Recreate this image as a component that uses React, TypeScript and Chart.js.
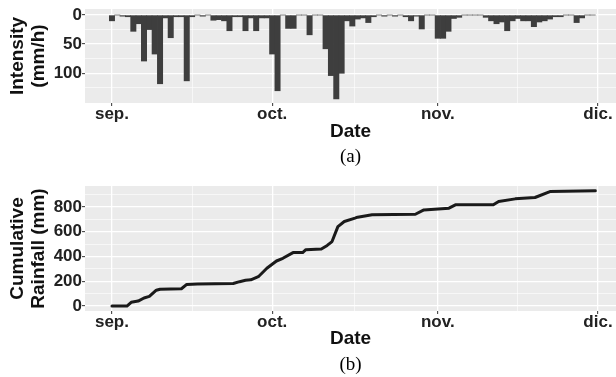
import React, { useEffect, useRef } from 'react';
import { Chart, registerables } from 'chart.js';
Chart.register(...registerables);

// ---- data ----
// Daily rainfall intensity (mm/h), one value per day starting 1 Sep
const intensity = [
  10, 0, 2, 3, 28, 15, 79, 25, 67, 118,
  5, 39, 3, 3, 113, 3, 0, 2, 0, 9,
  8, 10, 27, 3, 3, 27, 5, 27, 5, 5,
  67, 130, 0, 23, 23, 0, 0, 34, 0, 0,
  58, 104, 144, 100, 10, 19, 7, 5, 13, 3,
  0, 2, 0, 2, 0, 3, 10, 2, 24, 0,
  0, 40, 40, 28, 6, 4, 0, 0, 0, 0,
  4, 10, 15, 12, 27, 10, 6, 10, 10, 20,
  12, 10, 7, 3, 3, 0, 0, 13, 5, 0,
  0,
];
// Cumulative rainfall (mm): day offset from 1 Sep, value
const cumDays = [0, 2.8, 3.6, 4.9, 6, 7, 8.3, 9, 13, 14, 16, 22.7, 23.9, 25, 26, 27.4, 29, 30.8, 32, 33.9, 35.7, 36.3, 39.2, 40.3, 41.2, 42.3, 43.5, 45.5, 46, 48.7, 56.8, 58.4, 63.1, 64.3, 71.4, 72.4, 75.5, 79.2, 82, 90.5];
const cumRain = [0, 0, 30, 40, 65, 78, 128, 136, 140, 175, 178, 182, 197, 208, 212, 237, 305, 364, 386, 432, 432, 455, 461, 490, 521, 642, 683, 710, 718, 737, 742, 777, 791, 818, 818, 845, 866, 877, 925, 931];
// Axis ticks
const monthTickDays = [0, 30, 61, 91];
const monthLabels = ['sep.', 'oct.', 'nov.', 'dic.'];
const xGridDays = [0, 15, 30, 45.5, 61, 76, 91];
const intensityGrid = [0, 25, 50, 75, 100, 125];
const intensityLabels = [0, 50, 100];
const cumGrid = [0, 100, 200, 300, 400, 500, 600, 700, 800, 900];
const cumLabels = [0, 200, 400, 600, 800];

const SANS = "'Liberation Sans', Arial, sans-serif";
const X_MIN = -5.05;
const X_MAX = 94.37;

const bgPlugin = {
  id: 'panelBg',
  beforeDraw(chart: any) {
    const { ctx, chartArea } = chart;
    ctx.save();
    ctx.fillStyle = '#EBEBEB';
    ctx.fillRect(chartArea.left, chartArea.top, chartArea.right - chartArea.left, chartArea.bottom - chartArea.top);
    ctx.restore();
  },
};

const captionPlugin = (text: string, dy: number) => ({
  id: 'caption',
  afterDraw(chart: any) {
    const { ctx, chartArea } = chart;
    ctx.save();
    ctx.font = "19px 'Liberation Serif', 'Times New Roman', serif";
    ctx.fillStyle = '#000';
    ctx.textAlign = 'center';
    ctx.textBaseline = 'middle';
    ctx.fillText(text, (chartArea.left + chartArea.right) / 2, chartArea.bottom + dy);
    ctx.restore();
  },
});

const tickFont = { family: SANS, size: 17, weight: 'bold' as const, lineHeight: 1 };
const titleFont = { family: SANS, size: 19, weight: 'bold' as const, lineHeight: 1.2 };

function xScale(axisHeight: number, titlePadBottom: number) {
  return {
    type: 'linear' as const,
    min: X_MIN,
    max: X_MAX,
    offset: false,
    bounds: 'data' as const,
    afterBuildTicks: (s: any) => {
      s.ticks = xGridDays.map((v) => ({ value: v }));
    },
    afterFit: (s: any) => {
      s.height = axisHeight;
    },
    border: { display: false },
    grid: {
      offset: false,
      drawTicks: true,
      tickLength: 3,
      color: '#FFFFFF',
      lineWidth: (c: any) => (monthTickDays.includes(c.tick?.value) ? 1.3 : 0.6),
      tickColor: (c: any) => (monthTickDays.includes(c.tick?.value) ? '#333' : 'rgba(0,0,0,0)'),
      tickWidth: 1,
    },
    ticks: {
      autoSkip: false,
      maxRotation: 0,
      minRotation: 0,
      padding: 0,
      color: '#222',
      font: tickFont,
      callback: (v: any) => {
        const i = monthTickDays.indexOf(Number(v));
        return i >= 0 ? monthLabels[i] : '';
      },
    },
    title: {
      display: true,
      text: 'Date',
      color: '#111',
      font: titleFont,
      padding: { top: 0, bottom: titlePadBottom },
    },
  };
}

function yScale(opts: {
  min: number; max: number; reverse: boolean; grid: number[]; labels: number[]; title: string[];
}) {
  return {
    type: 'linear' as const,
    min: opts.min,
    max: opts.max,
    reverse: opts.reverse,
    bounds: 'data' as const,
    afterBuildTicks: (s: any) => {
      s.ticks = opts.grid.map((v) => ({ value: v }));
    },
    afterFit: (s: any) => {
      s.width = 85;
    },
    border: { display: false },
    grid: {
      drawTicks: true,
      tickLength: 3,
      color: '#FFFFFF',
      lineWidth: (c: any) => (opts.labels.includes(c.tick?.value) ? 1.3 : 0.6),
      tickColor: (c: any) => (opts.labels.includes(c.tick?.value) ? '#333' : 'rgba(0,0,0,0)'),
      tickWidth: 1,
    },
    ticks: {
      autoSkip: false,
      padding: 0,
      color: '#222',
      font: tickFont,
      callback: (v: any) => (opts.labels.includes(Number(v)) ? String(v) : ''),
    },
    title: {
      display: true,
      text: opts.title,
      color: '#111',
      font: { family: SANS, size: 19, weight: 'bold' as const, lineHeight: 21 / 19 },
      padding: { top: 7.5, bottom: 0 },
    },
  };
}

export default function App() {
  const refA = useRef<HTMLCanvasElement>(null);
  const refB = useRef<HTMLCanvasElement>(null);

  useEffect(() => {
    const chartA = new Chart(refA.current!, {
      type: 'bar',
      data: {
        datasets: [
          {
            data: intensity.map((v, i) => ({ x: i, y: v })),
            backgroundColor: '#3E3E3E',
            borderColor: '#3E3E3E',
            borderWidth: 0,
            barPercentage: 1,
            categoryPercentage: 1,
          },
        ],
      },
      options: {
        responsive: false,
        animation: false,
        events: [],
        layout: { padding: { top: 9, left: 0, right: 0, bottom: 0 } },
        plugins: { legend: { display: false }, tooltip: { enabled: false } },
        scales: {
          x: xScale(69, 28.6) as any,
          y: yScale({
            min: -10.3, max: 151, reverse: true,
            grid: intensityGrid, labels: intensityLabels, title: ['Intensity', '(mm/h)'],
          }) as any,
        },
      },
      plugins: [bgPlugin, captionPlugin('(a)', 54)],
    });

    const chartB = new Chart(refB.current!, {
      type: 'line',
      data: {
        datasets: [
          {
            data: cumDays.map((d, i) => ({ x: d, y: cumRain[i] })),
            borderColor: '#1A1A1A',
            borderWidth: 3,
            pointRadius: 0,
            tension: 0,
            fill: false,
            borderJoinStyle: 'round',
            borderCapStyle: 'round',
          },
        ],
      },
      options: {
        responsive: false,
        animation: false,
        events: [],
        layout: { padding: { top: 11, left: 0, right: 0, bottom: 0 } },
        plugins: { legend: { display: false }, tooltip: { enabled: false } },
        scales: {
          x: xScale(66, 26.6) as any,
          y: yScale({
            min: -40, max: 970, reverse: false,
            grid: cumGrid, labels: cumLabels, title: ['Cumulative', 'Rainfall (mm)'],
          }) as any,
        },
      },
      plugins: [bgPlugin, captionPlugin('(b)', 54)],
    });

    return () => {
      chartA.destroy();
      chartB.destroy();
    };
  }, []);

  return (
    <div style={{ position: 'absolute', left: 0, top: 0, width: 616, height: 377, background: '#fff' }}>
      <canvas ref={refA} width={616} height={172} style={{ position: 'absolute', left: 0, top: 0 }} />
      <canvas ref={refB} width={616} height={202} style={{ position: 'absolute', left: 0, top: 175 }} />
    </div>
  );
}
